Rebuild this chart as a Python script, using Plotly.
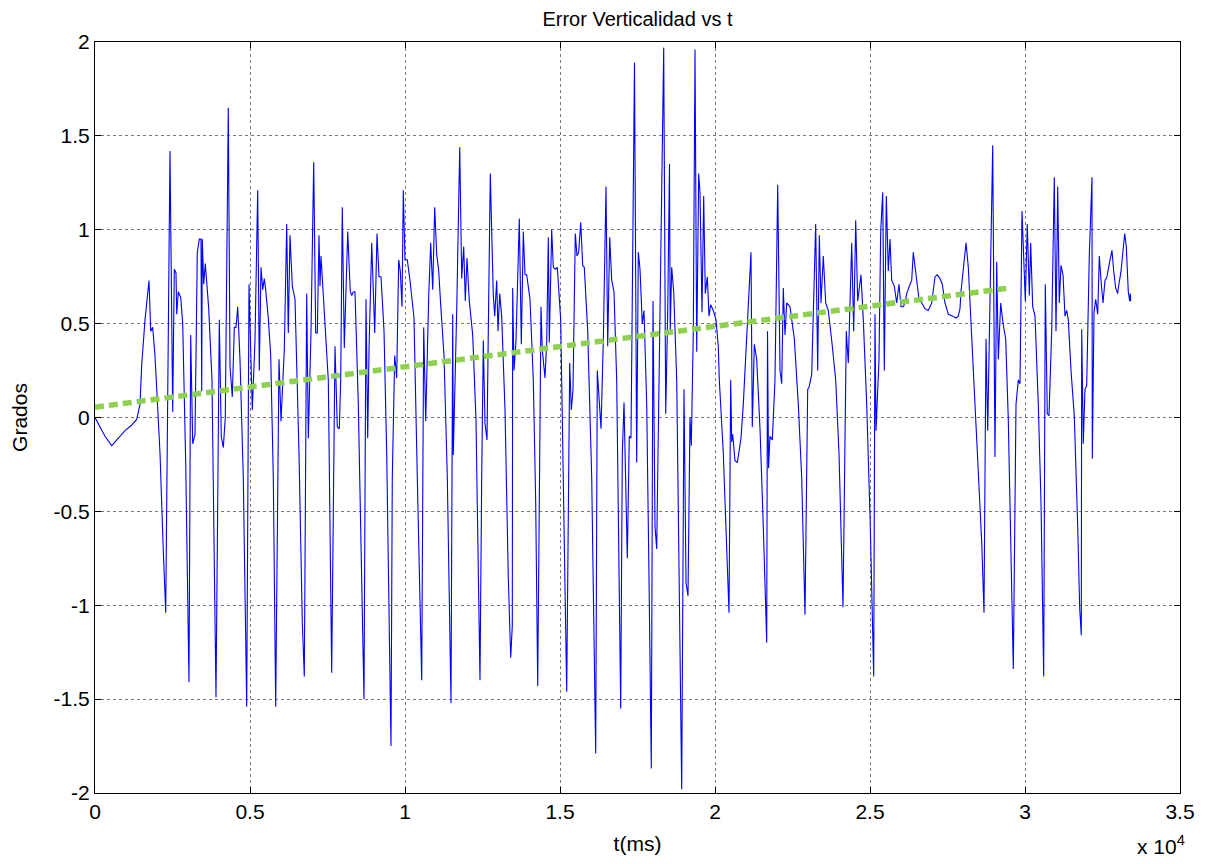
import plotly.graph_objects as go

# Verticality error samples: time in ms, error in degrees
t_ms = [
    0, 161, 323, 539, 752, 968, 1184, 1345, 1452, 1506, 1613, 1742, 1797, 1861, 1935,
    2097, 2203, 2281, 2419, 2506, 2558, 2613, 2635, 2687, 2765, 2829, 2926, 3032, 3087,
    3152, 3226, 3300, 3365, 3419, 3442, 3461, 3506, 3558, 3668, 3774, 3903, 4010, 4074,
    4139, 4203, 4300, 4355, 4429, 4494, 4548, 4603, 4677, 4784, 4894, 4968, 5074, 5161,
    5248, 5300, 5355, 5410, 5461, 5506, 5590, 5668, 5752, 5829, 5935, 6000, 6106, 6184,
    6235, 6290, 6365, 6452, 6581, 6687, 6752, 6829, 6881, 6968, 7055, 7119, 7171, 7226,
    7258, 7290, 7419, 7526, 7635, 7742, 7816, 7881, 7926, 7977, 8042, 8152, 8235, 8281,
    8332, 8387, 8494, 8603, 8677, 8742, 8797, 8839, 8926, 9023, 9097, 9161, 9226, 9323,
    9410, 9548, 9590, 9668, 9732, 9797, 9848, 9903, 9945, 10000, 10074, 10161, 10290,
    10397, 10539, 10603, 10668, 10765, 10829, 10894, 10958, 11023, 11087, 11152, 11258,
    11365, 11484, 11539, 11558, 11668, 11765, 11829, 11894, 11945, 12000, 12074, 12184,
    12290, 12419, 12474, 12526, 12581, 12645, 12687, 12752, 12848, 12894, 12958, 13000,
    13055, 13119, 13226, 13332, 13410, 13461, 13474, 13516, 13581, 13687, 13752, 13816,
    13871, 13926, 14032, 14139, 14216, 14281, 14387, 14429, 14516, 14571, 14623, 14655,
    14732, 14784, 14848, 14913, 15023, 15106, 15216, 15313, 15365, 15419, 15494, 15548,
    15603, 15668, 15732, 15784, 15894, 16023, 16152, 16203, 16323, 16397, 16484, 16539,
    16603, 16668, 16742, 16829, 16903, 16958, 17010, 17065, 17171, 17235, 17290, 17403,
    17474, 17526, 17581, 17655, 17710, 17797, 17871, 17945, 18000, 18065, 18119, 18203,
    18290, 18345, 18410, 18474, 18532, 18555, 18603, 18668, 18765, 18848, 18926, 19000,
    19065, 19129, 19194, 19235, 19300, 19355, 19410, 19474, 19516, 19581, 19635, 19687,
    19752, 19806, 19861, 19945, 20032, 20106, 20139, 20268, 20377, 20452, 20506, 20539,
    20571, 20645, 20719, 20839, 20913, 21023, 21161, 21203, 21268, 21345, 21452, 21558,
    21668, 21694, 21726, 21774, 21848, 21935, 22023, 22097, 22152, 22203, 22258, 22313,
    22419, 22558, 22687, 22797, 22903, 22990, 23032, 23119, 23248, 23313, 23365, 23419,
    23494, 23571, 23655, 23765, 23894, 24000, 24129, 24235, 24300, 24410, 24474, 24539,
    24603, 24710, 24784, 24894, 25010, 25119, 25161, 25194, 25290, 25345, 25410, 25461,
    25526, 25590, 25645, 25700, 25784, 25861, 25935, 26000, 26074, 26129, 26184, 26290,
    26345, 26397, 26452, 26506, 26581, 26668, 26774, 26881, 26990, 27097, 27171, 27258,
    27332, 27419, 27526, 27668, 27774, 27848, 27903, 27935, 28010, 28097, 28171, 28226,
    28281, 28355, 28461, 28603, 28677, 28742, 28797, 28848, 28958, 29032, 29087, 29139,
    29216, 29300, 29377, 29461, 29539, 29623, 29710, 29784, 29839, 29903, 30010, 30074,
    30139, 30184, 30248, 30323, 30429, 30516, 30603, 30655, 30719, 30774, 30861, 30945,
    31000, 31055, 31106, 31161, 31226, 31290, 31345, 31397, 31484, 31590, 31700, 31765,
    31816, 31829, 31881, 31935, 31990, 32074, 32161, 32171, 32226, 32281, 32345, 32397,
    32452, 32516, 32581, 32645, 32732, 32806, 32861, 32925, 32990, 33010, 33097, 33161,
    33216, 33268, 33332, 33377, 33397, 33410,
]

error_deg = [
    0.00, -0.05, -0.10, -0.15, -0.11, -0.07, -0.04, -0.01, 0.07, 0.28, 0.52, 0.73, 0.46, 0.48, 0.33,
    -0.19, -0.71, -1.04, 1.42, 0.03, 0.79, 0.77, 0.55, 0.67, 0.64, 0.50, -0.24, -1.41, 0.44,
    -0.14, -0.09, 0.88, 0.95, 0.95, 0.14, 0.95, 0.71, 0.82, 0.58, 0.20, -1.49, 0.52, -0.10,
    -0.16, 0.00, 1.65, 0.27, 0.11, 0.48, 0.48, 0.59, 0.31, -0.32, -1.54, 0.71, 0.04, 0.41,
    1.21, 0.25, 0.80, 0.68, 0.74, 0.68, 0.53, 0.33, -0.32, -1.54, 0.31, -0.02, 0.36, 1.03,
    0.45, 0.97, 0.70, 0.63, -0.19, -1.09, -1.38, 0.66, -0.11, 0.46, 1.36, 0.45, 0.45, 0.97,
    0.70, 0.86, 0.46, 0.20, -1.36, 0.38, -0.05, -0.06, 0.20, 1.12, 0.37, 0.99, 0.67, 0.65,
    0.67, 0.67, 0.07, -0.85, -1.50, 0.63, -0.11, 0.36, 0.93, 0.45, 0.98, 0.75, 0.75, 0.46,
    -0.19, -1.75, -0.32, 0.33, 0.21, 0.84, 0.78, 0.59, 1.21, 0.84, 0.84, 0.73, 0.53,
    -0.32, -1.40, 0.48, -0.02, 0.65, 0.93, 0.68, 1.12, 0.87, 0.78, 0.60, 0.33,
    -0.32, -1.52, 0.55, -0.20, 0.57, 1.44, 0.74, 0.91, 0.62, 0.85, 0.62, 0.44,
    -0.01, -1.40, -0.32, 0.41, -0.03, -0.12, 0.46, 1.30, 0.65, 0.54, 0.73, 0.46,
    0.66, 0.54, 0.04, -0.85, -1.28, -1.11, 0.69, 0.25, 0.41, 1.06, 0.39, 0.99,
    0.76, 0.76, 0.63, 0.20, -0.45, -1.43, 0.59, 0.36, 0.21, 0.40, 0.96, 0.40,
    1.00, 0.80, 0.79, 0.80, 0.52, -0.32, -1.46, 0.29, 0.04, 0.15, 0.98, 0.86,
    0.88, 1.04, 0.81, 0.80, 0.46, -0.32, -1.79, 0.25, -0.06, 0.41, 1.23, 0.38,
    0.96, 0.73, 0.67, 0.20, -0.71, -1.55, -0.19, 0.08, -0.75, -0.10, -0.11, 1.89,
    -0.24, 0.88, 0.79, 0.50, 0.57, 0.07, -0.85, -1.87, 0.62, -0.58, -0.70, 0.20,
    1.38, 1.97, 0.02, 0.55, 1.35, 0.46, 0.80, 0.67, 0.20, -0.85, -1.98, 0.15,
    -0.88, -0.95, 0.00, -0.15, 0.46, 1.96, 0.35, 1.30, 1.20, 0.56, 1.18, 0.66,
    0.75, 0.54, 0.60, 0.57, 0.52, 0.38, 0.20, -0.19, -0.71, -1.04, 0.20, -0.13,
    -0.09, -0.23, -0.24, -0.11, 0.07, 0.46, 0.88, -0.05, 0.39, 0.31, -0.06, -0.58,
    -1.20, 0.46, -0.27, -0.10, -0.12, 0.20, 1.24, 0.25, 0.18, 0.69, 0.44, 0.61,
    0.59, 0.42, 0.07, -0.32, -1.05, 0.15, 0.16, 0.23, 1.03, 0.25, 0.97, 0.61,
    0.86, 0.61, 0.57, 0.41, 0.20, -0.19, -1.01, 0.46, 0.29, 0.93, 0.46, 1.05,
    0.62, 0.76, 0.52, 0.07, -0.58, -1.38, 0.55, -0.07, 0.31, 0.99, 1.20, 0.25,
    1.18, 0.78, 0.95, 0.73, 0.70, 0.61, 0.71, 0.59, 0.59, 0.61, 0.66, 0.71,
    0.73, 0.88, 0.80, 0.73, 0.63, 0.61, 0.58, 0.57, 0.61, 0.75, 0.76, 0.74,
    0.71, 0.61, 0.55, 0.54, 0.53, 0.54, 0.58, 0.67, 0.80, 0.93, 0.80, 0.62,
    0.46, 0.20, -0.19, -0.66, -1.04, 0.42, -0.07, 0.46, 1.45, -0.21, 0.83, 0.31,
    0.61, 0.49, 0.42, -0.01, -0.58, -1.34, 0.07, 0.20, 0.18, 1.10, 0.62, 1.03,
    0.65, 0.93, 0.59, 0.54, 0.07, -0.45, -1.38, 0.71, 0.02, 0.01, 0.46, 1.28,
    0.46, 1.23, 0.61, 0.81, 0.76, 0.54, 0.57, 0.52, 0.25, 0.01, -0.58, -1.02,
    -1.16, 0.47, -0.14, 0.15, 0.17, 0.86, 1.28, -0.22, 0.56, 0.63, 0.55, 0.86,
    0.73, 0.61, 0.73, 0.75, 0.83, 0.89, 0.78, 0.69, 0.66, 0.69, 0.78, 0.88,
    0.98, 0.91, 0.67, 0.62, 0.66, 0.62,
]

# Linear trend of the error
trend_t = [0, 29500]
trend_deg = [0.055, 0.69]

x_tick_vals = [0, 5000, 10000, 15000, 20000, 25000, 30000, 35000]
x_tick_text = ["0", "0.5", "1", "1.5", "2", "2.5", "3", "3.5"]
y_tick_vals = [-2, -1.5, -1, -0.5, 0, 0.5, 1, 1.5, 2]
y_tick_text = ["-2", "-1.5", "-1", "-0.5", "0", "0.5", "1", "1.5", "2"]

FONT = "Liberation Sans, Arial, sans-serif"

fig = go.Figure()
fig.add_trace(go.Scatter(
    x=t_ms, y=error_deg, mode="lines",
    line=dict(color="#0000ff", width=1.1),
    showlegend=False, hoverinfo="skip",
))
fig.add_trace(go.Scatter(
    x=trend_t, y=trend_deg, mode="lines",
    line=dict(color="#8fd14f", width=5.5, dash="9px,5px"),
    showlegend=False, hoverinfo="skip",
))

axis_common = dict(
    showline=True, linecolor="black", linewidth=1, mirror="allticks",
    ticks="inside", ticklen=6, tickcolor="black", tickwidth=1,
    showgrid=True, gridcolor="#777777", gridwidth=1, griddash="dot",
    zeroline=False, tickfont=dict(family=FONT, size=21, color="black"),
)

fig.update_xaxes(
    range=[0, 35000], tickmode="array", tickvals=x_tick_vals, ticktext=x_tick_text,
    title=dict(text="t(ms)", font=dict(family=FONT, size=21, color="black"), standoff=14),
    **axis_common,
)
fig.update_yaxes(
    range=[-2, 2], tickmode="array", tickvals=y_tick_vals, ticktext=y_tick_text,
    title=dict(text="Grados", font=dict(family=FONT, size=21, color="black"), standoff=20),
    **axis_common,
)

# Exponent of the x axis scale
fig.add_annotation(
    text="x 10<sup>4</sup>", xref="paper", yref="paper", x=1.006, y=-0.089,
    xanchor="right", yanchor="bottom", showarrow=False,
    font=dict(family=FONT, size=21, color="black"),
)

fig.update_layout(
    width=1208, height=864, autosize=False,
    margin=dict(l=95, r=28, t=42, b=71),
    paper_bgcolor="white", plot_bgcolor="white",
    title=dict(text="Error Verticalidad vs t", x=0.5, xref="paper", xanchor="center",
               y=1 - 19 / 864, yanchor="middle",
               font=dict(family=FONT, size=20, color="black")),
)

fig.write_html("out.html")
